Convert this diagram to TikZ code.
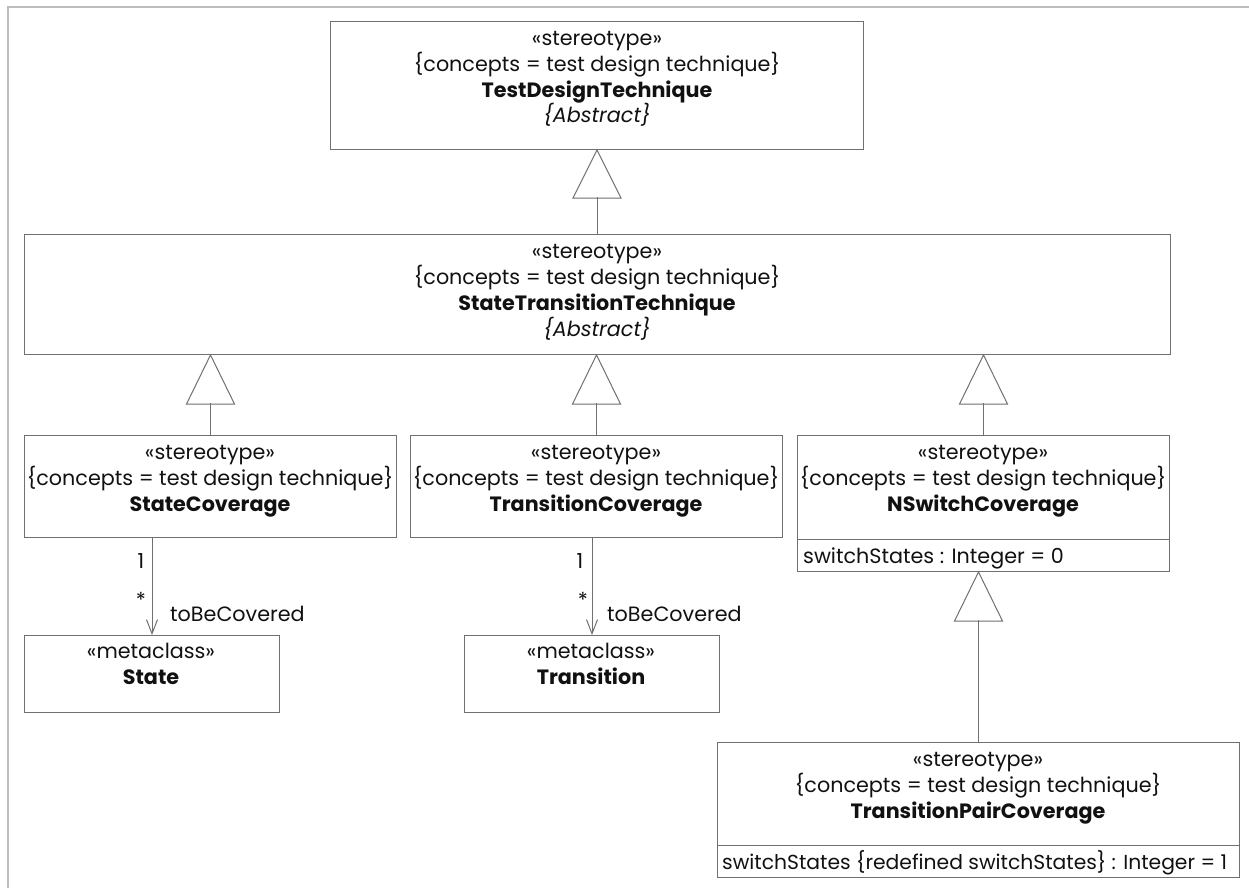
\documentclass[tikz,border=0pt]{standalone}
\usepackage{fontspec}
\setmainfont{Poppins}
\usetikzlibrary{arrows.meta,calc}
\definecolor{ink}{HTML}{111111}
\definecolor{edge}{HTML}{707070}
\definecolor{frame}{HTML}{BDBDBD}
\begin{document}
\begin{tikzpicture}[x=1pt,y=-1pt,
  bx/.style={draw=edge, line width=1pt, rectangle, inner sep=0pt, anchor=north west},
  txt/.style={anchor=base, inner sep=0pt, text=ink, font=\fontsize{20.7}{24}\selectfont},
  ltxt/.style={txt, anchor=base west},
  conn/.style={draw=edge, line width=1pt},
  assoc/.style={draw=edge, line width=1pt, -{Straight Barb[length=14pt,width=11pt]}}
]
\useasboundingbox (0,0) rectangle (1249,888);
\draw[frame, line width=2pt] (7.5,888) -- (7.5,7.5) -- (1249,7.5);

% boxes
\node[bx, minimum width=533pt, minimum height=128pt] (tdt) at (330,21) {};
\node[bx, minimum width=1146pt, minimum height=120pt] (stt) at (24,234) {};
\node[bx, minimum width=372pt, minimum height=102pt] (sc) at (24,435) {};
\node[bx, minimum width=372pt, minimum height=102pt] (tc) at (410,435) {};
\node[bx, minimum width=372pt, minimum height=136pt] (ns) at (797,435) {};
\node[bx, minimum width=522pt, minimum height=135pt] (tpc) at (717,742) {};
\node[bx, minimum width=255pt, minimum height=77pt] (st) at (24,635) {};
\node[bx, minimum width=255pt, minimum height=77pt] (tr) at (464,635) {};

% compartments
\draw[conn] ($(ns.north west)+(0,104)$) -- ($(ns.north east)+(0,104)$);
\draw[conn] ($(tpc.north west)+(0,103)$) -- ($(tpc.north east)+(0,103)$);

% texts
\node[txt] (t1) at (597,46) {«stereotype»};
\node[txt] (t2) at (597,72) {\{concepts = test design technique\}};
\node[txt] (t3) at (597,98) {\bfseries TestDesignTechnique};
\node[txt] (t4) at (597,123) {\itshape \{Abstract\}};

\node[txt] (s1) at (597,258) {«stereotype»};
\node[txt] (s2) at (597,284) {\{concepts = test design technique\}};
\node[txt] (s3) at (597,310) {\bfseries StateTransitionTechnique};
\node[txt] (s4) at (597,336) {\itshape \{Abstract\}};

\node[txt] (c1) at (210,459) {«stereotype»};
\node[txt] (c2) at (210,485) {\{concepts = test design technique\}};
\node[txt] (c3) at (210,511) {\bfseries StateCoverage};

\node[txt] (d1) at (596,459) {«stereotype»};
\node[txt] (d2) at (596,485) {\{concepts = test design technique\}};
\node[txt] (d3) at (596,511) {\bfseries TransitionCoverage};

\node[txt] (n1) at (983,459) {«stereotype»};
\node[txt] (n2) at (983,485) {\{concepts = test design technique\}};
\node[txt] (n3) at (983,511) {\bfseries NSwitchCoverage};
\node[ltxt] (n4) at (803,563) {switchStates : Integer = 0};

\node[txt] (p1) at (978,766) {«stereotype»};
\node[txt] (p2) at (978,792) {\{concepts = test design technique\}};
\node[txt] (p3) at (978,818) {\bfseries TransitionPairCoverage};
\node[ltxt, font=\fontsize{20.3}{24}\selectfont] (p4) at (722,869) {switchStates \{redefined switchStates\} : Integer = 1};

\node[txt] (m1) at (151,658) {«metaclass»};
\node[txt] (m2) at (151,684) {\bfseries State};
\node[txt] (r1) at (591,658) {«metaclass»};
\node[txt] (r2) at (591,684) {\bfseries Transition};

% generalizations
\draw[conn, fill=white] (tdt.south) -- ++(24,48) -- ++(-48,0) -- cycle;
\draw[conn] (stt.north) -- ++(0,-37);
\draw[conn, fill=white] (sc.north |- stt.south) -- ++(24,49) -- ++(-48,0) -- cycle;
\draw[conn] (sc.north) -- ++(0,-32);
\draw[conn, fill=white] (tc.north |- stt.south) -- ++(24,49) -- ++(-48,0) -- cycle;
\draw[conn] (tc.north) -- ++(0,-32);
\draw[conn, fill=white] (ns.north |- stt.south) -- ++(24,49) -- ++(-48,0) -- cycle;
\draw[conn] (ns.north) -- ++(0,-32);
\draw[conn, fill=white] (tpc.north |- ns.south) -- ++(24,49) -- ++(-48,0) -- cycle;
\draw[conn] (tpc.north) -- ++(0,-122);

% associations
\draw[assoc] (st.north |- sc.south) -- (st.north);
\draw[assoc] (tr.north |- tc.south) -- (tr.north);
\node[txt] (a1) at (141,568) {1};
\node[txt] (a2) at (141,607) {*};
\node[ltxt] (a3) at (170,621) {toBeCovered};
\node[txt] (b1) at (580,568) {1};
\node[txt] (b2) at (583,607) {*};
\node[ltxt] (b3) at (607,621) {toBeCovered};
\end{tikzpicture}
\end{document}
